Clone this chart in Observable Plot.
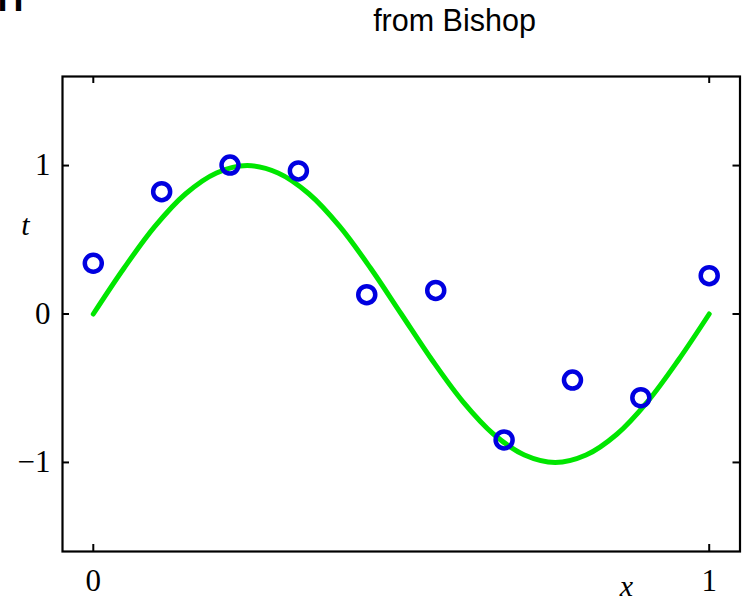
<!DOCTYPE html>
<html>
<head>
<meta charset="utf-8">
<script src="https://cdn.jsdelivr.net/npm/d3@7"></script>
<script src="https://cdn.jsdelivr.net/npm/@observablehq/plot@0.6"></script>
<style>
  html, body { margin: 0; padding: 0; background: #fff; overflow: hidden; }
</style>
</head>
<body>
<div id="chart"></div>
<script>
// Observed data points (x_n, t_n)
const pointX = [0, 0.111, 0.222, 0.333, 0.444, 0.556, 0.667, 0.778, 0.889, 1];
const pointT = [0.342, 0.824, 1.003, 0.964, 0.130, 0.159, -0.848, -0.445, -0.564, 0.258];

// Green curve at x steps of 0.05
const curveX = [0, 0.05, 0.1, 0.15, 0.2, 0.25, 0.3, 0.35, 0.4, 0.45, 0.5, 0.55, 0.6, 0.65, 0.7, 0.75, 0.8, 0.85, 0.9, 0.95, 1];
const curveT = [0, 0.31, 0.59, 0.81, 0.95, 1, 0.95, 0.81, 0.59, 0.31, 0, -0.31, -0.59, -0.81, -0.95, -1, -0.95, -0.81, -0.59, -0.31, 0];

const xTicks = [0, 1];
const yTicks = [-1, 0, 1];
const titleText = "from Bishop";
const cornerText = "H";
const xLabel = "x";
const yLabel = "t";

const points = pointX.map((x, i) => ({x, t: pointT[i]}));
const curve = curveX.map((x, i) => ({x, t: curveT[i]}));

const W = 749, H = 602;
const mL = 62, mR = 9.5, mT = 76, mB = 51;
const fw = W - mL - mR, fh = H - mT - mB;
const serif = "Liberation Serif, DejaVu Serif, serif";
const sans = "Liberation Sans, Arial, sans-serif";
const fmt = d => d < 0 ? "\u2212" + Math.abs(d) : String(d);

const chart = Plot.plot({
  width: W,
  height: H,
  marginLeft: mL,
  marginRight: mR,
  marginTop: mT,
  marginBottom: mB,
  style: {background: "white", overflow: "visible"},
  x: {domain: [-0.05, 1.05]},
  y: {domain: [-1.6, 1.6]},
  marks: [
    Plot.line(curve, {x: "x", y: "t", stroke: "#00e600", strokeWidth: 5, curve: "catmull-rom"}),
    Plot.dot(points, {x: "x", y: "t", r: 8.5, stroke: "#0000e0", strokeWidth: 4.5, fill: "none"}),
    // inward ticks
    Plot.ruleX(xTicks, {x: d => d, insetTop: fh - 7, stroke: "black", strokeWidth: 2}),
    Plot.ruleX(xTicks, {x: d => d, insetBottom: fh - 7, stroke: "black", strokeWidth: 2}),
    Plot.ruleY(yTicks, {y: d => d, insetRight: fw - 7, stroke: "black", strokeWidth: 2}),
    Plot.ruleY(yTicks, {y: d => d, insetLeft: fw - 7, stroke: "black", strokeWidth: 2}),
    Plot.frame({stroke: "black", strokeWidth: 2.2}),
    Plot.axisX(xTicks, {tickSize: 0, tickPadding: 17, label: null, fontSize: 31, fontFamily: serif, fill: "black", tickFormat: fmt}),
    Plot.axisY(yTicks, {tickSize: 0, tickPadding: 12, label: null, fontSize: 31, fontFamily: serif, fill: "black", tickFormat: fmt}),
    Plot.text([yLabel], {text: d => d, frameAnchor: "top-left", dx: 25 - mL, dy: 234 - mT, lineAnchor: "bottom", textAnchor: "middle", fontSize: 30, fontStyle: "italic", fontFamily: serif, fill: "black"}),
    Plot.text([xLabel], {text: d => d, frameAnchor: "top-left", dx: 626 - mL, dy: 595 - mT, lineAnchor: "bottom", textAnchor: "middle", fontSize: 30, fontStyle: "italic", fontFamily: serif, fill: "black"}),
    Plot.text([titleText], {text: d => d, frameAnchor: "top-left", dx: 454 - mL, dy: 30 - mT, lineAnchor: "bottom", textAnchor: "middle", fontSize: 30.5, fontFamily: sans, fill: "black"}),
    Plot.text([cornerText], {text: d => d, frameAnchor: "top-left", dx: -3 - mL, dy: 10 - mT, lineAnchor: "bottom", textAnchor: "start", fontSize: 36, fontWeight: "bold", fontFamily: sans, fill: "black"})
  ]
});
document.getElementById("chart").appendChild(chart);
</script>
</body>
</html>
